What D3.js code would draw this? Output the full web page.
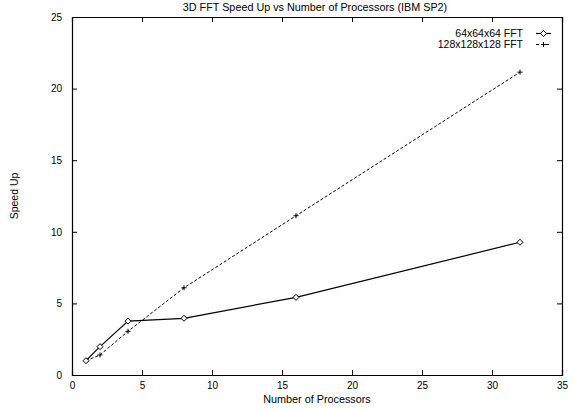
<!DOCTYPE html>
<html>
<head>
<meta charset="utf-8">
<script src="https://cdn.jsdelivr.net/npm/d3@7"></script>
<style>
  html, body { margin: 0; padding: 0; background: #fff; }
  svg { display: block; font-family: "Liberation Sans", Arial, sans-serif; }
</style>
</head>
<body>
<svg id="chart" width="573" height="410"></svg>
<script>
// Processor counts and measured speed-ups
const processors = [1, 2, 4, 8, 16, 32];
const speedup64 = [1.0, 1.98, 3.76, 3.96, 5.42, 9.27];
const speedup128 = [1.0, 1.4, 3.05, 6.09, 11.12, 21.15];
const seriesNames = ["64x64x64 FFT", "128x128x128 FFT"];
const xTicks = [0, 5, 10, 15, 20, 25, 30, 35];
const yTicks = [0, 5, 10, 15, 20, 25];

const svg = d3.select("#chart");
const W = 573, H = 410;
const m = { left: 72, right: 11, top: 17, bottom: 35 };

const x = d3.scaleLinear().domain([0, 35]).range([m.left, W - m.right]);
const y = d3.scaleLinear().domain([0, 25]).range([H - m.bottom, m.top]);

const tickLen = 5;

// Frame with inward ticks on all four sides
const axes = svg.append("g").attr("font-size", 10.8);

axes.append("g")
  .attr("transform", `translate(0,${y(0)})`)
  .call(d3.axisBottom(x).tickValues(xTicks).tickSize(-tickLen).tickPadding(7).tickFormat(d3.format("d")));
axes.append("g")
  .attr("transform", `translate(0,${y(25)})`)
  .call(d3.axisTop(x).tickValues(xTicks).tickSize(-tickLen).tickFormat(""));
axes.append("g")
  .attr("transform", `translate(${x(0)},0)`)
  .call(d3.axisLeft(y).tickValues(yTicks).tickSize(-tickLen).tickPadding(10).tickFormat(d3.format("d")));
axes.append("g")
  .attr("transform", `translate(${x(35)},0)`)
  .call(d3.axisRight(y).tickValues(yTicks).tickSize(-tickLen).tickFormat(""));

axes.selectAll(".domain").attr("stroke", "#000").attr("stroke-width", 1.2);
axes.selectAll(".tick line").attr("stroke", "#000");
axes.selectAll(".tick text").attr("fill", "#000").attr("font-family", "Liberation Sans, Arial, sans-serif");

// Titles
svg.append("text")
  .attr("x", 315).attr("y", 11)
  .attr("text-anchor", "middle").attr("font-size", 10.8)
  .text("3D FFT Speed Up vs Number of Processors (IBM SP2)");

svg.append("text")
  .attr("x", (x(0) + x(35)) / 2).attr("y", 403)
  .attr("text-anchor", "middle").attr("font-size", 10.8)
  .text("Number of Processors");

svg.append("text")
  .attr("transform", `translate(18,${(y(0) + y(25)) / 2}) rotate(-90)`)
  .attr("text-anchor", "middle").attr("font-size", 10.5)
  .text("Speed Up");

const line = d3.line().x(d => x(d[0])).y(d => y(d[1]));
const pts64 = processors.map((p, i) => [p, speedup64[i]]);
const pts128 = processors.map((p, i) => [p, speedup128[i]]);

// 128^3 series: dashed line with plus markers
svg.append("path").datum(pts128)
  .attr("d", line).attr("fill", "none")
  .attr("stroke", "#000").attr("stroke-width", 1)
  .attr("stroke-dasharray", "3,2");

const plus = (g, cx, cy, r) => {
  g.append("path")
    .attr("d", `M${cx - r},${cy}H${cx + r}M${cx},${cy - r}V${cy + r}`)
    .attr("stroke", "#000").attr("stroke-width", 1).attr("fill", "none");
};
const plusG = svg.append("g");
pts128.forEach(d => plus(plusG, x(d[0]), y(d[1]), 2.5));

// 64^3 series: solid line with open diamond markers
svg.append("path").datum(pts64)
  .attr("d", line).attr("fill", "none")
  .attr("stroke", "#000").attr("stroke-width", 1.2);

const diamond = (g, cx, cy, r) => {
  g.append("path")
    .attr("d", `M${cx},${cy - r}L${cx + r},${cy}L${cx},${cy + r}L${cx - r},${cy}Z`)
    .attr("stroke", "#000").attr("stroke-width", 1).attr("fill", "#fff");
};
const diaG = svg.append("g");
pts64.forEach(d => diamond(diaG, x(d[0]), y(d[1]), 3));

// Legend (top right, text right-aligned, sample to the right)
const legX = 523, legY = [33.5, 44.5];
const leg = svg.append("g").attr("font-size", 10.5);
seriesNames.forEach((name, i) => {
  leg.append("text")
    .attr("x", legX).attr("y", legY[i]).attr("dy", "0.35em")
    .attr("text-anchor", "end").text(name);
  leg.append("line")
    .attr("x1", 536).attr("x2", 551)
    .attr("y1", legY[i]).attr("y2", legY[i])
    .attr("stroke", "#000").attr("stroke-width", i === 0 ? 1.2 : 1)
    .attr("stroke-dasharray", i === 0 ? null : "3,2");
});
diamond(leg, 543.5, legY[0], 3);
plus(leg, 543.5, legY[1], 2.5);
</script>
</body>
</html>
